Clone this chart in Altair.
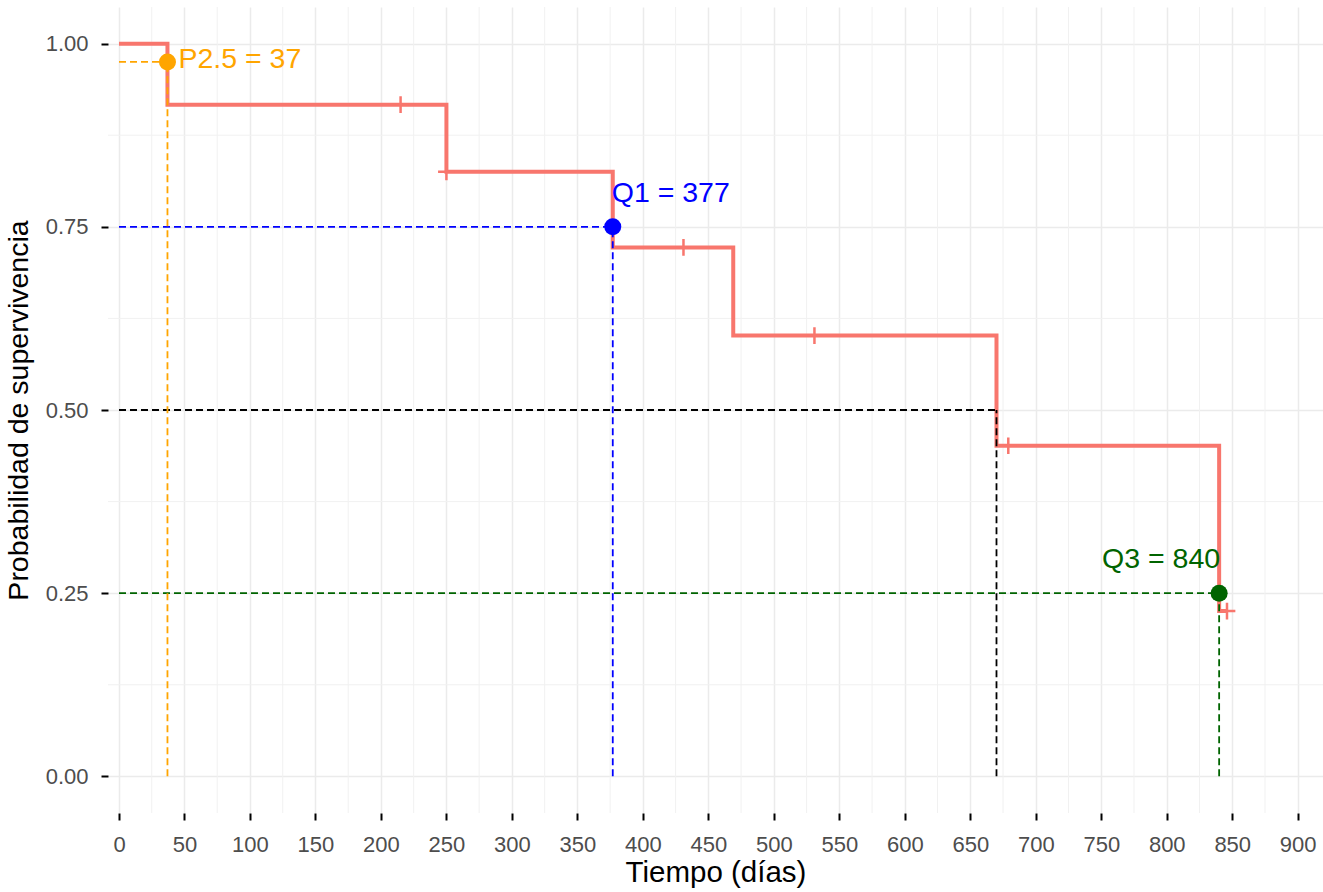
import altair as alt
import pandas as pd

# Kaplan-Meier estimate: event times and survival after each step
times = [0, 37, 250, 377, 469, 670, 840, 846]
surv = [1.0, 0.9167, 0.825, 0.7219, 0.6016, 0.4512, 0.2256, 0.2256]

# censored observations
censor_t = [215, 250, 431, 531, 679, 846]
censor_s = [0.9167, 0.825, 0.7219, 0.6016, 0.4512, 0.2256]

# survival-time quantiles
q_name = ["P2.5", "Q1", "Mediana", "Q3"]
q_prob = [0.975, 0.75, 0.5, 0.25]
q_time = [37, 377, 670, 840]
q_color = ["orange", "blue", "black", "darkgreen"]
q_labelled = [True, True, False, True]

x_ticks = list(range(0, 901, 50))
x_minor = list(range(25, 900, 50))
y_ticks = [0.0, 0.25, 0.5, 0.75, 1.0]
y_minor = [0.125, 0.375, 0.625, 0.875]

FONT = "Liberation Sans"
SALMON = "#F8766D"

km = pd.DataFrame({"t": times, "s": surv})
cens = pd.DataFrame({"t": censor_t, "s": censor_s})
q = pd.DataFrame({"name": q_name, "p": q_prob, "t": q_time,
                  "col": q_color, "lab": q_labelled})
q["x0"] = 0
q["y0"] = 0.0
q["text"] = q["name"] + " = " + q["t"].astype(str)

xs = alt.Scale(domain=[-8.4, 919.3], nice=False, zero=False)
ys = alt.Scale(domain=[-0.05, 1.05], nice=False, zero=False)

x_axis = alt.Axis(values=x_ticks, title="Tiempo (días)", format="d",
                  titleFontSize=29.5)
y_axis = alt.Axis(values=y_ticks, title="Probabilidad de supervivencia",
                  format=".2f", titleFontSize=28.5)

minor_v = alt.Chart(pd.DataFrame({"v": x_minor})).mark_rule(
    color="#F1F1F1", strokeWidth=1
).encode(x=alt.X("v:Q", scale=xs, axis=x_axis))

minor_h = alt.Chart(pd.DataFrame({"v": y_minor})).mark_rule(
    color="#F1F1F1", strokeWidth=1
).encode(y=alt.Y("v:Q", scale=ys, axis=y_axis))

step = alt.Chart(km).mark_line(
    interpolate="step-after", color=SALMON, strokeWidth=4
).encode(
    x=alt.X("t:Q", scale=xs, axis=x_axis),
    y=alt.Y("s:Q", scale=ys, axis=y_axis),
)

plus = "M-1,0L1,0M0,-1L0,1"
censors = alt.Chart(cens).mark_point(
    shape=plus, filled=False, color=SALMON, strokeWidth=2.5, size=280, opacity=1
).encode(x=alt.X("t:Q", scale=xs), y=alt.Y("s:Q", scale=ys))

DASH = [7, 4]
hdash = alt.Chart(q).mark_rule(strokeDash=DASH, strokeWidth=1.8).encode(
    x=alt.X("x0:Q", scale=xs), x2="t:Q",
    y=alt.Y("p:Q", scale=ys),
    color=alt.Color("col:N", scale=None),
)
vdash = alt.Chart(q).mark_rule(strokeDash=DASH, strokeWidth=1.8).encode(
    x=alt.X("t:Q", scale=xs),
    y=alt.Y("y0:Q", scale=ys), y2="p:Q",
    color=alt.Color("col:N", scale=None),
)

marked = alt.Chart(q).transform_filter("datum.lab")
dots = marked.mark_circle(size=290, opacity=1).encode(
    x=alt.X("t:Q", scale=xs), y=alt.Y("p:Q", scale=ys),
    color=alt.Color("col:N", scale=None),
)


def label(name, **kw):
    return alt.Chart(q).transform_filter(f"datum.name == '{name}'").mark_text(
        font=FONT, fontSize=28.5, baseline="alphabetic", **kw
    ).encode(
        x=alt.X("t:Q", scale=xs), y=alt.Y("p:Q", scale=ys),
        text="text:N", color=alt.Color("col:N", scale=None),
    )


labels = (
    label("P2.5", align="left", dx=11, dy=6)
    + label("Q1", align="left", dx=-1, dy=-25)
    + label("Q3", align="right", dx=1, dy=-25)
)

chart = alt.layer(
    minor_v, minor_h, step, censors, hdash, vdash, dots, labels
).properties(
    width=1215, height=806,
    autosize=alt.AutoSizeParams(type="none"),
    padding={"left": 108, "top": 7, "right": 0, "bottom": 79},
).configure(font=FONT).configure_view(stroke=None).configure_axis(
    domain=False,
    grid=True, gridColor="#EBEBEB", gridWidth=1.5,
    ticks=True, tickColor="black", tickWidth=2, tickSize=7,
    labelFont=FONT, labelFontSize=22, labelColor="#4D4D4D",
    titleFont=FONT, titleColor="black", titleFontWeight="normal",
).configure_axisX(labelPadding=14, titlePadding=3).configure_axisY(
    labelPadding=13, titlePadding=12
)

chart.save("out.html", embed_options={"renderer": "svg", "actions": False})
